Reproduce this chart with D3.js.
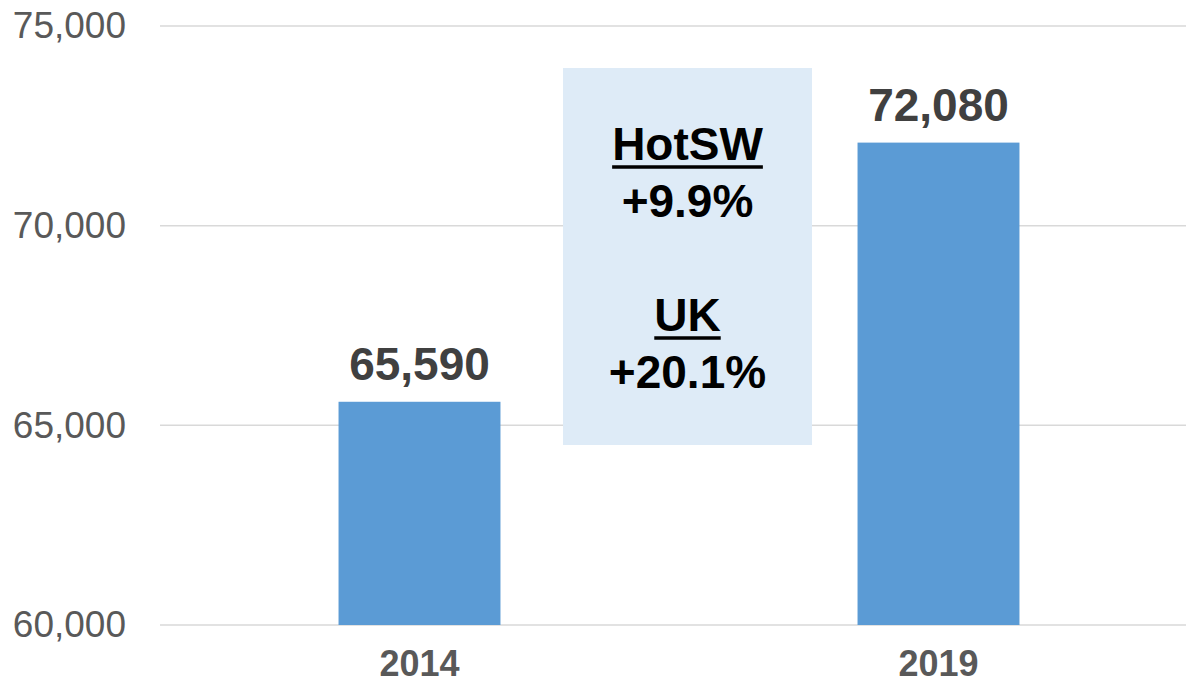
<!DOCTYPE html>
<html>
<head>
<meta charset="utf-8">
<script src="https://cdn.jsdelivr.net/npm/d3@7"></script>
<style>
  html, body { margin: 0; padding: 0; background: #fff; }
  #chart { width: 1186px; height: 685px; }
  text { font-family: "Liberation Sans", Arial, sans-serif; }
</style>
</head>
<body>
<div id="chart"></div>
<script>
// --- data ---
const years = ["2014", "2019"];
const jobs = [65590, 72080];
const yTicks = [60000, 65000, 70000, 75000];
const noteLines = [
  { text: "HotSW", underline: true },
  { text: "+9.9%", underline: false },
  { text: "", underline: false },
  { text: "UK", underline: true },
  { text: "+20.1%", underline: false }
];

const width = 1186, height = 685;
const margin = { top: 26, left: 160, bottom: 60 };
const plotRight = 1198; // band range runs a bit past the window edge

const svg = d3.select("#chart").append("svg")
  .attr("width", width)
  .attr("height", height);

const x = d3.scaleBand()
  .domain(years)
  .range([margin.left, plotRight])
  .paddingInner(0.688)
  .paddingOuter(0.344);

const y = d3.scaleLinear()
  .domain([60000, 75000])
  .range([height - margin.bottom, margin.top]);

const fmt = d3.format(",");

// gridlines
svg.append("g")
  .selectAll("line")
  .data(yTicks)
  .join("line")
  .attr("x1", margin.left)
  .attr("x2", width)
  .attr("y1", d => y(d))
  .attr("y2", d => y(d))
  .attr("stroke", "#d9d9d9")
  .attr("stroke-width", 1.5);

// y axis labels
const yAxis = d3.axisLeft(y).tickValues(yTicks).tickFormat(fmt).tickSize(0).tickPadding(34);
const gY = svg.append("g")
  .attr("transform", `translate(${margin.left},0)`)
  .call(yAxis);
gY.select(".domain").remove();
gY.selectAll("text")
  .attr("fill", "#595959")
  .style("font-size", "37px")
  .style("font-family", "'Liberation Sans', Arial, sans-serif");

// x axis labels
const xAxis = d3.axisBottom(x).tickSize(0).tickPadding(0);
const gX = svg.append("g")
  .attr("transform", `translate(0,${y(60000)})`)
  .call(xAxis);
gX.select(".domain").remove();
gX.selectAll("text")
  .attr("dy", null)
  .attr("y", 51)
  .attr("fill", "#595959")
  .style("font-size", "36px")
  .style("font-weight", "bold")
  .style("font-family", "'Liberation Sans', Arial, sans-serif");

// bars
const rows = years.map((yr, i) => ({ year: yr, value: jobs[i] }));
svg.append("g")
  .selectAll("rect")
  .data(rows)
  .join("rect")
  .attr("x", d => x(d.year))
  .attr("y", d => y(d.value))
  .attr("width", x.bandwidth())
  .attr("height", d => y(60000) - y(d.value))
  .attr("fill", "#5b9bd5");

// value labels
svg.append("g")
  .selectAll("text")
  .data(rows)
  .join("text")
  .attr("x", d => x(d.year) + x.bandwidth() / 2)
  .attr("y", d => y(d.value) - 22)
  .attr("text-anchor", "middle")
  .attr("fill", "#404040")
  .style("font-size", "46px")
  .style("font-weight", "bold")
  .text(d => fmt(d.value));

// comparison note box
const box = { x: 563, y: 68, w: 249, h: 377 };
const note = svg.append("g");
note.append("rect")
  .attr("x", box.x)
  .attr("y", box.y)
  .attr("width", box.w)
  .attr("height", box.h)
  .attr("fill", "#deebf7");

const cx = box.x + box.w / 2;
const lineH = 57;
noteLines.forEach((ln, i) => {
  if (!ln.text) return;
  const by = 160 + i * lineH;
  const t = note.append("text")
    .attr("x", cx)
    .attr("y", by)
    .attr("text-anchor", "middle")
    .attr("fill", "#000")
    .style("font-size", "46px")
    .style("font-weight", "bold")
    .text(ln.text);
  if (ln.underline) {
    const w = t.node().getComputedTextLength();
    note.append("line")
      .attr("x1", cx - w / 2)
      .attr("x2", cx + w / 2)
      .attr("y1", by + 7)
      .attr("y2", by + 7)
      .attr("stroke", "#000")
      .attr("stroke-width", 3.5);
  }
});
</script>
</body>
</html>
